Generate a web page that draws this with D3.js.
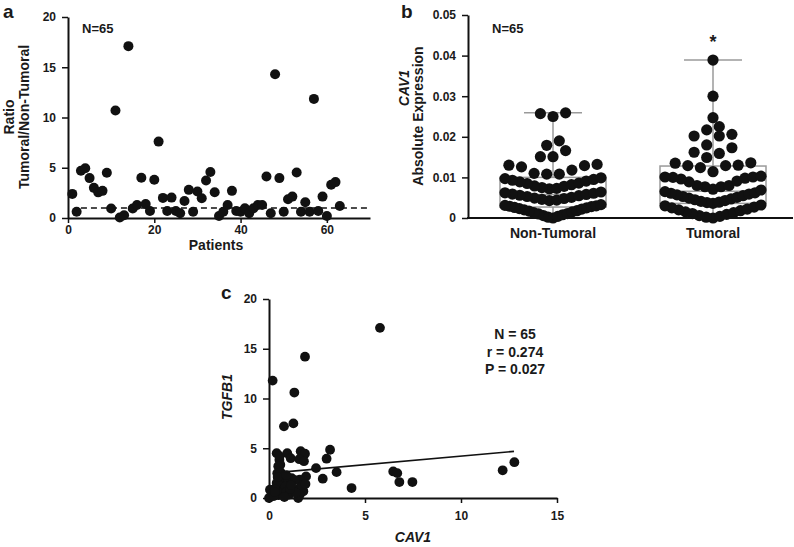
<!DOCTYPE html>
<html>
<head>
<meta charset="utf-8">
<script src="https://cdn.jsdelivr.net/npm/d3@7"></script>
<style>
  body { margin: 0; background: #fff; }
  text { font-family: "Liberation Sans", Arial, sans-serif; font-weight: bold; fill: #1a1a1a; }
  .domain { stroke: #111; stroke-width: 2; }
  .tick line { stroke: #111; stroke-width: 1.5; }
</style>
</head>
<body>
<svg id="fig" width="794" height="547"></svg>
<script>
// panel a: ratio per patient
const patientIds = [1, 2, 3, 4, 5, 6, 7, 8, 9, 10, 11, 12, 13, 14, 15, 16, 17, 18, 19, 20,
    21, 22, 23, 24, 25, 26, 27, 28, 29, 30, 31, 32, 33, 34, 35, 36, 37, 38, 39, 40,
    41, 42, 43, 44, 45, 46, 47, 48, 49, 50, 51, 52, 53, 54, 55, 56, 57, 58, 59, 60,
    61, 62, 63];
const ratioValues = [2.4, 0.63, 4.7, 4.95, 3.97, 3.0, 2.55, 2.7, 4.5, 0.95, 10.7, 0.05, 0.27, 17.1, 0.95,
    1.3, 4.0, 1.4, 0.7, 3.8, 7.6, 2.0, 0.7, 2.03, 0.7, 0.47, 1.7, 2.8, 0.63, 2.63,
    1.97, 3.73, 4.57, 2.57, 0.2, 0.63, 1.3, 2.7, 0.7, 0.63, 0.97, 0.47, 0.97, 1.3, 1.3,
    4.13, 0.47, 14.3, 3.97, 0.63, 1.87, 2.13, 4.53, 0.63, 1.57, 0.63, 11.85, 0.7, 2.13, 0.2,
    3.3, 3.57, 1.2];
const ratioTicks = [0, 5, 10, 15, 20];
const patientTicks = [0, 20, 40, 60];

// panel b: absolute expression
const groupNames = ["Non-Tumoral", "Tumoral"];
const nonTumoralValues = [0.0259, 0.0250, 0.0257, 0.0190, 0.0179, 0.0166, 0.0151, 0.0151,
    0.0132, 0.0129, 0.0118, 0.0108, 0.0108, 0.0110, 0.0126, 0.0130,
    0.0072, 0.0073, 0.0075, 0.0078, 0.0079, 0.0082, 0.0085, 0.0086, 0.0089, 0.0091, 0.0093, 0.0095, 0.0097, 0.0099,
    0.0043, 0.0044, 0.0046, 0.0048, 0.0049, 0.0051, 0.0053, 0.0055, 0.0056, 0.0058, 0.0059, 0.0061, 0.0062, 0.0064,
    0.0000, 0.0002, 0.0004, 0.0006, 0.0008, 0.0010, 0.0011, 0.0013, 0.0015, 0.0017, 0.0018, 0.0020,
    0.0022, 0.0023, 0.0025, 0.0026, 0.0028, 0.0029, 0.0030, 0.0031, 0.0033];
const tumoralValues = [0.0389, 0.0300, 0.0247, 0.0225, 0.0217, 0.0206, 0.0202, 0.0202, 0.0180,
    0.0173, 0.0162, 0.0159, 0.0149,
    0.0124, 0.0136, 0.0130, 0.0129, 0.0129, 0.0135, 0.0114,
    0.0091, 0.0103, 0.0100, 0.0096, 0.0098, 0.0101, 0.0101, 0.0089,
    0.0080, 0.0077, 0.0071, 0.0065, 0.0069, 0.0077, 0.0080,
    0.0036, 0.0038, 0.0039, 0.0041, 0.0043, 0.0045, 0.0047, 0.0049, 0.0051, 0.0053, 0.0055, 0.0057, 0.0059, 0.0061, 0.0062,
    0.0000, 0.0002, 0.0004, 0.0006, 0.0009, 0.0011, 0.0013, 0.0015, 0.0018, 0.0020, 0.0022, 0.0025, 0.0027, 0.0030, 0.0032];
const boxQ1 = [0.0027, 0.0036];
const boxMedian = [0.0058, 0.0066];
const boxQ3 = [0.0100, 0.0128];
const whiskerLow = [0, 0];
const whiskerHigh = [0.0259, 0.0389];
const expressionTicks = [0, 0.01, 0.02, 0.03, 0.04, 0.05];

// panel c: correlation
const cav1Values = [5.78, 1.875, 0.19, 1.32, 1.27, 0.78,
    0.4, 0.95, 1.65, 1.875, 0.54, 1.13, 1.58, 1.82, 0.59, 3.18, 3.0, 2.45, 3.52, 1.93, 2.8, 4.3, 0.43, 1.18,
    6.47, 6.68, 6.79, 7.47, 12.17, 12.78,
    0.48, 0.7, 0.7, 0.57, 1.0, 1.6, 0.05, 0.22, 0.0, 0.75, 1.27, 1.6, 1.79, 1.52, 1.6, 0.4, 0.86,
    0.3, 0.5, 0.65, 0.9, 1.05, 1.4, 1.7, 0.6, 0.45, 0.9, 1.1, 0.25, 0.8, 1.9, 1.35, 0.55, 0.3, 1.15];
const tgfb1Values = [17.1, 14.2, 11.8, 10.6, 7.5, 7.2,
    4.5, 4.5, 4.7, 4.45, 3.85, 4.0, 3.9, 3.7, 3.35, 4.85, 3.95, 3.0, 2.6, 2.17, 1.94, 1.0, 2.5, 2.0,
    2.67, 2.5, 1.6, 1.6, 2.78, 3.6,
    3.2, 2.0, 1.8, 1.17, 1.67, 1.84, 0.83, 0.5, 0.0, 0.67, 0.83, 1.0, 0.67, 0.0, 0.33, 1.5, 1.17,
    0.9, 0.3, 0.45, 0.6, 0.35, 0.55, 1.3, 2.6, 2.1, 2.3, 0.9, 0.2, 0.1, 1.4, 1.8, 4.2, 0.6, 1.3];
const cav1Ticks = [0, 5, 10, 15];
const tgfb1Ticks = [0, 5, 10, 15, 20];
const fitSlope = 0.172;
const fitIntercept = 2.49;
const fitRange = [0.66, 12.76];
const statLines = ["N = 65", "r = 0.274", "P = 0.027"];

const svg = d3.select("#fig");
const dotColor = "#111";

function panelLabel(x, y, letter) {
    svg.append("text").attr("x", x).attr("y", y)
        .attr("font-size", 19).text(letter);
}

function styleTicks(g) {
    g.selectAll(".tick text").attr("font-size", 12).attr("fill", "#1a1a1a");
}

// ---------- panel a ----------
const xA = d3.scaleLinear().domain([0, 70]).range([68, 370]);
const yA = d3.scaleLinear().domain([0, 20]).range([218, 17]);

svg.append("line")
    .attr("x1", xA(3)).attr("x2", xA(70))
    .attr("y1", yA(1)).attr("y2", yA(1))
    .attr("stroke", "#111").attr("stroke-width", 1.6)
    .attr("stroke-dasharray", "6,4");

svg.append("g").attr("transform", "translate(0," + yA(0) + ")")
    .call(d3.axisBottom(xA).tickValues(patientTicks).tickSize(5).tickPadding(2).tickSizeOuter(0))
    .call(styleTicks);
svg.append("g").attr("transform", "translate(" + xA(0) + ",0)")
    .call(d3.axisLeft(yA).tickValues(ratioTicks).tickSize(6).tickPadding(6).tickSizeOuter(0))
    .call(styleTicks);

svg.append("g").selectAll("circle")
    .data(patientIds)
    .join("circle")
    .attr("cx", function(d) { return xA(d); })
    .attr("cy", function(d, i) { return yA(ratioValues[i]); })
    .attr("r", 5)
    .attr("fill", dotColor);

panelLabel(3, 18, "a");
svg.append("text").attr("x", 82).attr("y", 33).attr("font-size", 13).text("N=65");
svg.append("text").attr("x", 216).attr("y", 250).attr("font-size", 14)
    .attr("text-anchor", "middle").text("Patients");
svg.append("text").attr("transform", "translate(14,117) rotate(-90)")
    .attr("font-size", 14).attr("text-anchor", "middle").text("Ratio");
svg.append("text").attr("transform", "translate(29,117) rotate(-90)")
    .attr("font-size", 14).attr("text-anchor", "middle").text("Tumoral/Non-Tumoral");

// ---------- panel b ----------
const xB = d3.scalePoint().domain(groupNames).range([553, 713]);
const yB = d3.scaleLinear().domain([0, 0.05]).range([218, 15]);
const dotR = 5.6;

// GraphPad-like scatter: bin values, lowest in the middle of each row
function swarmLayout(values, binSize, maxHalf, step) {
    const bins = d3.group(values, function(v) { return Math.floor(v / binSize); });
    const out = [];
    bins.forEach(function(vals) {
        const sorted = vals.slice().sort(d3.ascending);
        const n = sorted.length;
        const gap = n > 1 ? Math.min(step, 2 * maxHalf / (n - 1)) : 0;
        const slots = d3.range(n).map(function(k) { return k - (n - 1) / 2; })
            .sort(function(a, b) { return Math.abs(a) - Math.abs(b) || a - b; });
        sorted.forEach(function(v, i) {
            out.push({ value: v, dx: slots[i] * gap });
        });
    });
    return out;
}

const boxHalf = 53;
const capHalf = 29;
const boxG = svg.append("g").attr("stroke", "#9a9a9a").attr("stroke-width", 1.5).attr("fill", "none");
groupNames.forEach(function(name, i) {
    const cx = xB(name);
    boxG.append("rect")
        .attr("x", cx - boxHalf).attr("width", boxHalf * 2)
        .attr("y", yB(boxQ3[i])).attr("height", yB(boxQ1[i]) - yB(boxQ3[i]));
    boxG.append("line").attr("x1", cx - boxHalf).attr("x2", cx + boxHalf)
        .attr("y1", yB(boxMedian[i])).attr("y2", yB(boxMedian[i]));
    boxG.append("line").attr("x1", cx).attr("x2", cx)
        .attr("y1", yB(boxQ3[i])).attr("y2", yB(whiskerHigh[i]));
    boxG.append("line").attr("x1", cx).attr("x2", cx)
        .attr("y1", yB(boxQ1[i])).attr("y2", yB(whiskerLow[i]));
    boxG.append("line").attr("x1", cx - capHalf).attr("x2", cx + capHalf)
        .attr("y1", yB(whiskerHigh[i])).attr("y2", yB(whiskerHigh[i]));
});

[nonTumoralValues, tumoralValues].forEach(function(vals, i) {
    const cx = xB(groupNames[i]);
    svg.append("g").selectAll("circle")
        .data(swarmLayout(vals, 0.0035, 48, 12.6))
        .join("circle")
        .attr("cx", function(d) { return cx + d.dx; })
        .attr("cy", function(d) { return yB(d.value); })
        .attr("r", dotR)
        .attr("fill", dotColor);
});

svg.append("g").attr("transform", "translate(468,0)")
    .call(d3.axisLeft(yB).tickValues(expressionTicks).tickSize(6).tickPadding(6).tickSizeOuter(0)
        .tickFormat(function(d) { return d === 0 ? "0" : d3.format(".2f")(d); }))
    .call(styleTicks);
svg.append("line").attr("x1", 467).attr("x2", 793)
    .attr("y1", yB(0)).attr("y2", yB(0))
    .attr("stroke", "#111").attr("stroke-width", 2);
svg.append("g").selectAll("text")
    .data(groupNames)
    .join("text")
    .attr("x", function(d) { return xB(d); })
    .attr("y", 238)
    .attr("text-anchor", "middle")
    .attr("font-size", 14)
    .text(function(d) { return d; });

panelLabel(401, 18, "b");
svg.append("text").attr("x", 492).attr("y", 33).attr("font-size", 13).text("N=65");
svg.append("text").attr("x", xB("Tumoral")).attr("y", 48).attr("font-size", 18)
    .attr("text-anchor", "middle").text("*");
svg.append("text").attr("transform", "translate(409,88) rotate(-90)")
    .attr("font-size", 14).attr("font-style", "italic").attr("text-anchor", "middle").text("CAV1");
svg.append("text").attr("transform", "translate(423,116) rotate(-90)")
    .attr("font-size", 14).attr("text-anchor", "middle").text("Absolute Expression");

// ---------- panel c ----------
const xC = d3.scaleLinear().domain([0, 15]).range([269, 557]);
const yC = d3.scaleLinear().domain([0, 20]).range([498, 299]);

svg.append("g").attr("transform", "translate(0," + yC(0) + ")")
    .call(d3.axisBottom(xC).tickValues(cav1Ticks).tickSize(5).tickPadding(8).tickSizeOuter(0))
    .call(styleTicks);
svg.append("g").attr("transform", "translate(" + xC(0) + ",0)")
    .call(d3.axisLeft(yC).tickValues(tgfb1Ticks).tickSize(6).tickPadding(6).tickSizeOuter(0))
    .call(styleTicks);

svg.append("g").selectAll("circle")
    .data(cav1Values)
    .join("circle")
    .attr("cx", function(d) { return xC(d); })
    .attr("cy", function(d, i) { return yC(tgfb1Values[i]); })
    .attr("r", 4.9)
    .attr("fill", dotColor);

svg.append("line")
    .attr("x1", xC(fitRange[0])).attr("y1", yC(fitIntercept + fitSlope * fitRange[0]))
    .attr("x2", xC(fitRange[1])).attr("y2", yC(fitIntercept + fitSlope * fitRange[1]))
    .attr("stroke", "#111").attr("stroke-width", 1.6);

panelLabel(221, 299, "c");
svg.append("g").selectAll("text")
    .data(statLines)
    .join("text")
    .attr("x", 515)
    .attr("y", function(d, i) { return 339 + i * 17.5; })
    .attr("text-anchor", "middle")
    .attr("font-size", 14)
    .text(function(d) { return d; });
svg.append("text").attr("x", 413).attr("y", 542).attr("font-size", 14)
    .attr("font-style", "italic").attr("text-anchor", "middle").text("CAV1");
svg.append("text").attr("transform", "translate(232,397) rotate(-90)")
    .attr("font-size", 14).attr("font-style", "italic").attr("text-anchor", "middle").text("TGFB1");
</script>
</body>
</html>
